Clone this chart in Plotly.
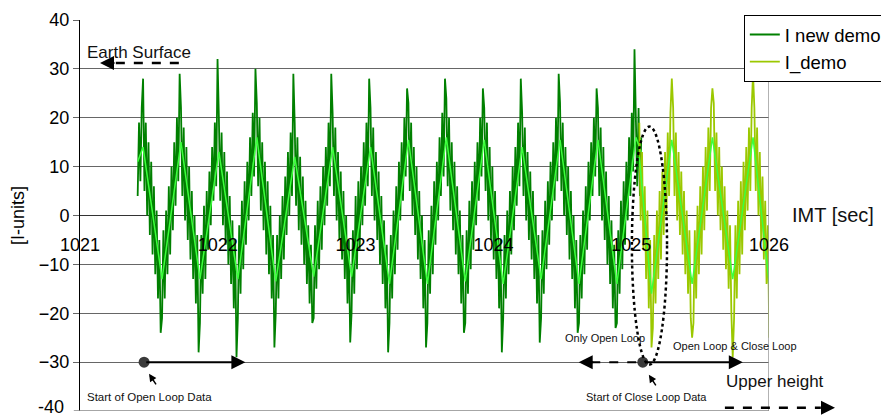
import numpy as np
import plotly.graph_objects as go

# ---------------- data ----------------
DARK_T0 = 1021.4185
YEL_T0 = 1025.0589
DT = 0.009824

# "I new demo" noisy samples, one row per half-cycle
dark_start = [4, 19, 7, 22]
dark_rows = [
    [28, 5, 19, 0, 15, -4, 11, -8, 6, -12, 1, -17, -5, -24],
    [-21, -3, -17, 1, -12, 6, -8, 10, -3, 15, 2, 20, 7, 29],
    [22, 4, 18, -1, 14, -5, 10, -9, 5, -13, 0, -18, -4, -28],
    [-22, -4, -16, 2, -13, 5, -7, 9, -2, 14, 3, 19, 6, 32],
    [20, 3, 17, -2, 13, -6, 9, -10, 4, -14, -1, -19, -5, -29],
    [-21, -2, -16, 3, -11, 7, -6, 11, -1, 16, 4, 21, 8, 30],
    [23, 6, 20, 1, 15, -3, 11, -8, 7, -12, 2, -17, -4, -27],
    [-20, -4, -17, 0, -13, 4, -9, 8, -4, 13, 0, 17, 4, 29],
    [19, 2, 16, -3, 12, -6, 8, -10, 3, -14, -2, -18, -6, -22],
    [-21, -2, -15, 3, -11, 6, -7, 10, -2, 14, 2, 19, 6, 29],
    [21, 4, 18, -1, 13, -5, 9, -9, 5, -13, 0, -18, -5, -26],
    [-20, -3, -16, 4, -11, 7, -7, 10, -2, 15, 2, 19, 6, 28],
    [22, 4, 18, -1, 13, -5, 9, -10, 4, -14, -1, -19, -6, -28],
    [-22, -4, -17, 1, -12, 6, -7, 11, -1, 15, 3, 20, 8, 26],
    [23, 5, 19, 0, 14, -4, 10, -9, 5, -13, 0, -19, -5, -27],
    [-22, -3, -16, 2, -12, 7, -6, 11, -1, 16, 4, 21, 8, 28],
    [24, 6, 20, 1, 15, -3, 11, -8, 6, -12, 1, -18, -4, -24],
    [-22, -3, -16, 3, -11, 7, -7, 11, -2, 15, 3, 20, 8, 26],
    [22, 5, 19, -1, 14, -5, 10, -9, 5, -13, 0, -19, -5, -28],
    [-21, -4, -17, 1, -12, 5, -8, 10, -3, 14, 2, 19, 6, 28],
    [21, 4, 18, -1, 13, -5, 9, -9, 5, -13, 0, -18, -4, -26],
    [-21, -3, -16, 3, -11, 7, -6, 11, -1, 15, 3, 20, 7, 29],
    [23, 5, 19, 0, 14, -4, 10, -9, 5, -13, 0, -19, -5, -24],
    [-22, -4, -17, 1, -12, 6, -7, 11, -1, 15, 4, 20, 8, 26],
    [22, 4, 18, -1, 14, -5, 9, -10, 4, -14, -1, -19, -6, -23],
    [-22, -3, -16, 3, -11, 7, -6, 11, -1, 16, 4, 21, 9, 34],
]
dark_end = [20, 6, 22, 4, 16]

# "I new demo" smoothed centre line (sample index, value)
dark_center_idx = [0, 4, 18, 32, 46, 60, 74, 88, 102, 116, 130, 144, 158, 172, 186,
                   200, 214, 228, 242, 256, 270, 284, 298, 312, 326, 340, 354, 368, 372]
dark_center_val = [11, 14, -13, 15, -13, 13, -13, 16, -13.5, 12, -12.5, 14, -12.5, 14, -14,
                   15.5, -14, 16, -13.5, 15.5, -14, 14, -13, 15.5, -14, 15.5, -14, 16, 13]

# "I_demo" noisy samples, one row per half-cycle
yel_rows = [
    [19, -1, 13, -7, 6, -13, 1, -19, -5, -27],
    [-23, -4, -18, 1, -13, 5, -9, 9, -4, 13, 0, 17, 4, 21, 28],
    [22, 4, 17, -1, 13, -4, 9, -8, 5, -12, 1, -16, -3, -21, -25],
    [-22, -3, -17, 2, -12, 6, -8, 10, -3, 14, 1, 18, 5, 22, 26],
    [23, 5, 17, 0, 14, -3, 10, -7, 6, -11, 1, -15, -2, -20, -29],
    [-21, -2, -17, 3, -12, 7, -8, 11, -3, 14, 1, 18, 5, 22, 29],
    [22, 5, 18, 0, 13, -5, 8, -9, 3, -14, -2, -25],
]
yel_center_idx = [0, 9, 24, 39, 54, 69, 84, 96]
yel_center_val = [12, -16, 15.5, -14, 16, -13, 16, -14]

x_ticks = [1021, 1022, 1023, 1024, 1025, 1026]
y_ticks = [-30, -20, -10, 0, 10, 20, 30, 40]
y_bottom = -40

loop_start_t = [1021.465, 1025.084]
loop_start_y = [-30, -30]

# ---------------- build ----------------
dark_vals = dark_start + [v for r in dark_rows for v in r] + dark_end
yel_vals = [v for r in yel_rows for v in r]
t_dark = DARK_T0 + DT * np.arange(len(dark_vals))
t_yel = YEL_T0 + DT * np.arange(len(yel_vals))
tc_dark = DARK_T0 + DT * np.array(dark_center_idx)
tc_yel = YEL_T0 + DT * np.array(yel_center_idx)

FONT = "Liberation Sans, Arial, sans-serif"
DARK = "rgb(0,128,0)"
LIME = "rgb(60,255,60)"
YEL = "rgb(155,200,0)"

fig = go.Figure()
fig.add_trace(go.Scatter(x=t_dark, y=dark_vals, mode="lines", name="I new demo",
                         line=dict(color=DARK, width=1.8)))
fig.add_trace(go.Scatter(x=tc_dark, y=dark_center_val, mode="lines", showlegend=False,
                         line=dict(color=LIME, width=1.5), hoverinfo="skip"))
fig.add_trace(go.Scatter(x=t_yel, y=yel_vals, mode="lines", name="I_demo",
                         line=dict(color=YEL, width=1.8)))
fig.add_trace(go.Scatter(x=tc_yel, y=yel_center_val, mode="lines", showlegend=False,
                         line=dict(color=LIME, width=1.5), hoverinfo="skip"))
fig.add_trace(go.Scatter(x=loop_start_t, y=loop_start_y, mode="markers", showlegend=False,
                         marker=dict(color="#3a3a3a", size=11)))

shapes = [
    dict(type="line", xref="x", yref="y", x0=1026, x1=1026, y0=y_bottom, y1=40,
         line=dict(color="#999", width=1.5)),
    dict(type="line", xref="paper", yref="y", x0=-0.009, x1=1, y0=y_bottom, y1=y_bottom,
         line=dict(color="#888", width=1.5)),
    dict(type="line", xref="x", yref="y", x0=1021.26, x1=1021.75, y0=31.2, y1=31.2,
         line=dict(color="black", width=2.5, dash="dash")),
    dict(type="line", xref="x", yref="y", x0=1024.71, x1=1025.05, y0=-30, y1=-30,
         line=dict(color="black", width=2, dash="dash")),
    dict(type="line", xref="paper", yref="paper", x0=0.936, x1=1.075, y0=0.008, y1=0.008,
         line=dict(color="black", width=2.5, dash="dash")),
    dict(type="circle", xref="x", yref="y", x0=1025.005, x1=1025.26, y0=-30.5, y1=18.2,
         line=dict(color="black", width=2.5, dash="dot")),
]

ann = []
def head(x, y, ax, ay, xref="x", yref="y", width=2, size=1.4):
    ann.append(dict(x=x, y=y, ax=ax, ay=ay, xref=xref, yref=yref, axref="pixel", ayref="pixel",
                    text="", showarrow=True, arrowhead=2, arrowsize=size,
                    arrowwidth=width, arrowcolor="black"))

def longarrow(x, y, ax, ay):
    ann.append(dict(x=x, y=y, ax=ax, ay=ay, xref="x", yref="y", axref="x", ayref="y",
                    text="", showarrow=True, arrowhead=2, arrowsize=1.4,
                    arrowwidth=2, arrowcolor="black"))

def label(text, x, y, size, xref="x", yref="y"):
    ann.append(dict(x=x, y=y, xref=xref, yref=yref, text=text, showarrow=False,
                    xanchor="left", yanchor="middle",
                    font=dict(family=FONT, size=size, color="#111")))

head(1021.145, 31.2, 16, 0)
longarrow(1022.2, -30, 1021.47, -30)
longarrow(1025.81, -30, 1025.09, -30)
head(1024.619, -30, 16, 0)
head(1.0958, 0.008, -16, 0, xref="paper", yref="paper")
head(1021.501, -32.4, 8, 12, width=1.5, size=1.0)
head(1025.128, -32.6, 8, 12, width=1.5, size=1.0)

label("Earth Surface", 1021.036, 33.4, 17)
label("IMT [sec]", 1.03, 0.2, 20, xref="paper", yref="y")
label("Upper height", 1025.673, -34.0, 17)
label("Start of Open Loop Data", 1021.036, -37.1, 11.5)
label("Only Open Loop", 1024.503, -25.0, 11)
label("Open Loop &amp; Close Loop", 1025.288, -26.7, 11)
label("Start of Close Loop Data", 1024.656, -37.1, 11)
# bottom tick label of the y axis, nudged up so it stays inside the page
ann.append(dict(x=0, y=y_bottom, xref="paper", yref="y", xshift=-14, yshift=4,
                text=str(y_bottom), showarrow=False, xanchor="right", yanchor="middle",
                font=dict(family=FONT, size=18, color="black")))

# the page body adds an 8 px offset, so the figure is 8 px smaller each way
fig.update_layout(
    width=881, height=411,
    margin=dict(l=72, r=120, t=12, b=8, autoexpand=False),
    paper_bgcolor="white", plot_bgcolor="white",
    font=dict(family=FONT, color="black"),
    shapes=shapes, annotations=ann,
    legend=dict(x=1.171, xanchor="right", y=1.0128, yanchor="top",
                bgcolor="white", bordercolor="black", borderwidth=1,
                font=dict(size=18.5, family=FONT), tracegroupgap=0),
    xaxis=dict(range=[1021, 1026], tickvals=x_ticks, anchor="free", position=0.5,
               showgrid=False, zeroline=False, showline=False, ticks="",
               ticklabelstandoff=16, tickfont=dict(size=18, family=FONT, color="black")),
    yaxis=dict(range=[-40, 40], tickvals=y_ticks, showgrid=True, gridcolor="#666", gridwidth=1,
               showline=True, linecolor="black", linewidth=1, ticks="outside", ticklen=6,
               tickcolor="#666", zeroline=True, zerolinecolor="#333", zerolinewidth=1,
               tickfont=dict(size=18, family=FONT, color="black"),
               title=dict(text="[I-units]", font=dict(size=18, family=FONT), standoff=13)),
)

fig.write_html("out.html")
